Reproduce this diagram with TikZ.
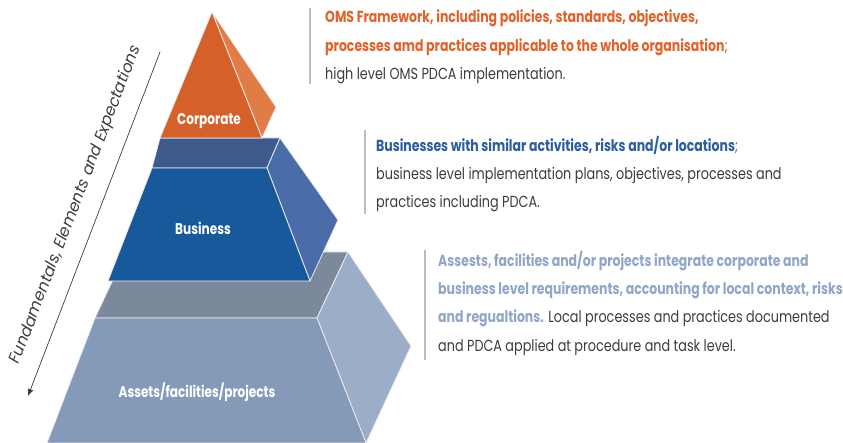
\documentclass[tikz,border=0pt]{standalone}
\usepackage{fontspec}
\setmainfont{Poppins}[UprightFeatures={FakeStretch=0.8}, BoldFeatures={FakeStretch=0.78}]
\newfontfamily\feefont{Poppins}
\usetikzlibrary{arrows.meta}
\definecolor{orF}{HTML}{D5602A}
\definecolor{orS}{HTML}{E27C46}
\definecolor{buT}{HTML}{3E5A8C}
\definecolor{buF}{HTML}{17599A}
\definecolor{buS}{HTML}{4A6DAA}
\definecolor{asT}{HTML}{7C899C}
\definecolor{asF}{HTML}{8599B8}
\definecolor{asS}{HTML}{9CADC7}
\definecolor{orTxt}{HTML}{E2622A}
\definecolor{buTxt}{HTML}{2B5E9F}
\definecolor{asTxt}{HTML}{8FA6C9}
\definecolor{gyTxt}{HTML}{3C3C3C}
\definecolor{barC}{HTML}{BDBDBD}
\tikzset{
  face/.style={draw=white!85!gray, line width=0.8pt, line join=round},
  lvl/.style={text=white, font=\fontsize{15.5}{15.5}\selectfont\bfseries, inner sep=0},
  ln/.style={anchor=base west, inner sep=0, font=\fontsize{16}{16}\selectfont, text=gyTxt},
  bar/.style={draw=barC, line width=1.2pt}
}
\begin{document}
\begin{tikzpicture}[x=1pt,y=-1pt]
\useasboundingbox (0,0) rectangle (843,443);
% Assets level
\fill[asT, face] (126,252) -- (348,252) -- (317,318) -- (95,318) -- cycle;
\fill[asS, face] (348,252) -- (411,346) -- (366,443) -- (317,318) -- cycle;
\fill[asF, face] (95,318) -- (317,318) -- (366,443) -- (47,443) -- cycle;
% Business level
\fill[buT, face] (160,138) -- (280,138) -- (267,168) -- (152,168) -- cycle;
\fill[buS, face] (280,138) -- (338,220) -- (310,281) -- (267,168) -- cycle;
\fill[buF, face] (152,168) -- (267,168) -- (310,281) -- (108,281) -- cycle;
% Corporate level
\fill[orS, face] (212,12) -- (276,107) -- (262,138) -- cycle;
\fill[orF, face] (212,12) -- (262,138) -- (160,138) -- cycle;
% level labels
\node[lvl] (corp) at (209,121) {Corporate};
\node[lvl] (bus) at (203,228) {Business};
\node[lvl] (ass) at (197,392) {Assets/facilities/projects};
% left arrow
\coordinate (atop) at (160,52);
\coordinate (abot) at (28,396);
\draw[gyTxt, line width=0.7pt, -{Latex[length=7pt,width=6pt]}] (atop) -- (abot);
\node[rotate=69, inner sep=0, text=gyTxt, font=\feefont\fontsize{16}{16}\selectfont\itshape] (fee) at (76,205) {Fundamentals, Elements and Expectations};
% block 1
\coordinate (b1a) at (310,8); \coordinate (b1b) at (310,84);
\draw[bar] (b1a) -- (b1b);
\node[ln, text=orTxt] (t11) at (325,23) {\bfseries OMS Framework, including policies, standards, objectives,};
\node[ln, text=orTxt] (t12) at (325,51.5) {\bfseries processes amd practices applicable to the whole organisation\mdseries;};
\node[ln] (t13) at (325,80) {high level OMS PDCA implementation.};
% block 2
\coordinate (b2a) at (365,130); \coordinate (b2b) at (365,214);
\draw[bar] (b2a) -- (b2b);
\node[ln, text=buTxt] (t21) at (376,152) {\bfseries Businesses with similar activities, risks and/or locations\mdseries\textcolor{buS}{;}};
\node[ln] (t22) at (376,180) {business level implementation plans, objectives, processes and};
\node[ln] (t23) at (376,208) {practices including PDCA.};
% block 3
\coordinate (b3a) at (425,250); \coordinate (b3b) at (425,360);
\draw[bar] (b3a) -- (b3b);
\node[ln, text=asTxt] (t31) at (438,267) {\bfseries Assests, facilities and/or projects integrate corporate and};
\node[ln, text=asTxt] (t32) at (438,295) {\bfseries business level requirements, accounting for local context, risks};
\node[ln] (t33) at (438,323) {\textcolor{asTxt}{\bfseries and regualtions.} Local processes and practices documented};
\node[ln] (t34) at (438,352) {and PDCA applied at procedure and task level.};
\end{tikzpicture}
\end{document}
